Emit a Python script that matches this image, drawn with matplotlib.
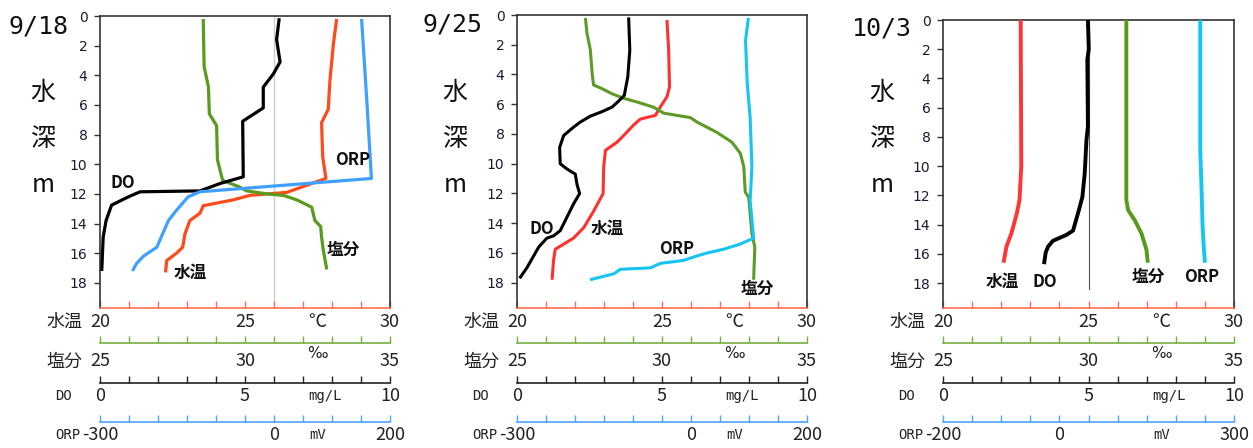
import numpy as np
import matplotlib.pyplot as plt

plt.rcParams['font.family'] = ['Noto Sans CJK JP', 'DejaVu Sans']

# ---- data: depth (m) and value ----
dates = ['9/18', '9/25', '10/3']

# 9/18
temp1_depth = [0.2, 1.85, 4.3, 6.3, 7.2, 9.5, 10.96, 11.9, 12.1, 12.4, 12.8, 13.3, 13.8, 14.7, 15.6, 16.0, 16.5, 17.3]
temp1 = [28.16, 28.05, 27.93, 27.87, 27.64, 27.68, 27.79, 26.44, 25.17, 24.6, 23.56, 23.45, 23.1, 22.93, 22.85, 22.64, 22.3, 22.26]
do1_depth = [0.15, 1.6, 3.1, 3.9, 4.8, 6.2, 7.1, 10.85, 11.3, 11.8, 11.86, 12.2, 12.76, 13.8, 14.9, 17.2]
do1 = [6.18, 6.09, 6.21, 5.98, 5.63, 5.63, 4.92, 4.94, 4.14, 3.45, 1.38, 0.98, 0.40, 0.21, 0.11, 0.06]
sal1_depth = [0.2, 3.4, 4.8, 6.6, 7.4, 9.7, 11.1, 11.5, 11.8, 12.0, 12.1, 12.4, 12.9, 13.8, 14.2, 14.9, 15.8, 17.1]
sal1 = [28.56, 28.59, 28.74, 28.77, 29.02, 29.05, 29.23, 29.77, 30.06, 30.75, 31.32, 31.78, 32.3, 32.41, 32.61, 32.64, 32.70, 32.82]
orp1_depth = [0.2, 5.7, 10.96, 11.86, 12.2, 13.1, 13.8, 15.6, 16.2, 16.7, 17.2]
orp1 = [151, 160, 168, -128, -148, -168, -182, -202, -225, -237, -244]

# 9/25
temp2_depth = [0.34, 2.36, 4.84, 5.5, 6.1, 6.75, 7.0, 7.4, 8.1, 8.55, 9.1, 10.2, 12.0, 13.2, 14.3, 15.0, 15.75, 16.5, 17.8]
temp2 = [25.17, 25.23, 25.26, 25.17, 24.97, 24.77, 24.25, 24.02, 23.68, 23.45, 23.05, 22.99, 22.97, 22.64, 22.3, 21.95, 21.32, 21.26, 21.21]
do2_depth = [0.16, 2.36, 4.16, 5.4, 5.74, 6.19, 6.5, 6.8, 7.2, 7.54, 8.1, 8.9, 10.0, 10.35, 10.7, 11.4, 12.0, 12.7, 13.6, 14.5, 14.85, 15.0, 15.6, 17.0, 17.7]
do2 = [3.85, 3.89, 3.82, 3.70, 3.53, 3.28, 2.93, 2.53, 2.18, 1.95, 1.61, 1.47, 1.49, 1.72, 2.01, 2.07, 2.16, 1.95, 1.72, 1.49, 1.26, 1.03, 0.75, 0.34, 0.09]
sal2_depth = [0.2, 1.2, 2.36, 3.9, 4.7, 4.95, 5.3, 5.6, 5.85, 6.2, 6.6, 6.9, 7.2, 7.9, 8.55, 9.3, 10.2, 11.9, 12.26, 14.7, 15.6, 17.8]
sal2 = [27.36, 27.41, 27.53, 27.59, 27.64, 27.93, 28.28, 28.68, 29.14, 29.71, 30.06, 30.98, 31.21, 31.90, 32.41, 32.70, 32.82, 32.87, 32.99, 33.10, 33.20, 33.16]
orp2_depth = [0.2, 1.7, 4.6, 6.9, 10.2, 12.5, 15.0, 15.4, 15.75, 16.0, 16.2, 16.5, 16.7, 17.0, 17.1, 17.4, 17.8]
orp2 = [99, 94, 97, 102, 105, 102, 108, 85, 56, 28, 10, -13, -53, -70, -122, -133, -174]

# 10/3
temp3_depth = [0.0, 10.0, 12.3, 13.2, 14.6, 15.5, 16.6]
temp3 = [22.67, 22.69, 22.63, 22.54, 22.35, 22.18, 22.08]
do3_depth = [0.0, 2.0, 2.7, 7.3, 8.2, 10.5, 12.1, 13.0, 14.4, 14.7, 15.1, 15.5, 15.9, 16.7]
do3 = [4.98, 5.01, 4.96, 4.98, 4.93, 4.87, 4.79, 4.67, 4.47, 4.24, 3.78, 3.61, 3.53, 3.47]
sal3_depth = [0.0, 12.3, 13.0, 13.7, 14.6, 15.7, 16.6]
sal3 = [31.30, 31.30, 31.36, 31.59, 31.82, 31.99, 32.04]
orp3_depth = [0.0, 8.9, 11.2, 14.1, 15.5, 16.6]
orp3 = [242, 242, 244, 246, 248, 250]

depth_ticks = [0, 2, 4, 6, 8, 10, 12, 14, 16, 18]
temp_range = (20, 30)
sal_range = (25, 35)
do_range = (0, 10)
orp_ranges = [(-300, 200), (-300, 200), (-200, 300)]
orp_shown = [(-300, 0, 200), (-300, 0, 200), (-200, 0, 300)]

# ---- layout (pixels) ----
W, H = 1253, 448
fig = plt.figure(figsize=(W / 100, H / 100), dpi=100)

boxes = [(100, 16, 390, 308), (517, 15, 807, 308), (943, 20, 1234, 308)]
title_xy = [(38, 27), (452, 25), (882, 28)]
ylabel_x = [43, 455, 882]

series = [
    (temp1_depth, temp1, do1_depth, do1, sal1_depth, sal1, orp1_depth, orp1),
    (temp2_depth, temp2, do2_depth, do2, sal2_depth, sal2, orp2_depth, orp2),
    (temp3_depth, temp3, do3_depth, do3, sal3_depth, sal3, orp3_depth, orp3),
]
line_colors = [
    ('#ff4a1c', '#000000', '#5a9a1e', '#3fa0ff'),
    ('#ff3030', '#000000', '#5e9a26', '#15c4f2'),
    ('#ff3535', '#000000', '#5a9a1a', '#14c6f0'),
]
line_w = [2.3, 2.2, 2.8]

# text labels placed as (temperature-scale x, depth)
label_pos = [
    {'DO': (20.8, 11.3), 'ORP': (28.72, 9.7), '水温': (23.1, 17.3), '塩分': (28.38, 15.8)},
    {'DO': (20.86, 14.4), '水温': (23.1, 14.4), 'ORP': (25.52, 15.7), '塩分': (28.3, 18.4)},
    {'水温': (22.03, 17.9), 'DO': (23.5, 17.9), '塩分': (27.04, 17.6), 'ORP': (28.9, 17.6)},
]

temp_c, sal_c, do_c, orp_c = '#ff7050', '#76b043', '#222222', '#4da6ff'
frame_c = '#333333'


def style_scale(ax, lo, hi, shown, color, center_px, unit, unit_x, unit_font):
    ticks = [lo + (hi - lo) * k / 10 for k in range(11)]
    ax.set_xlim(lo, hi)
    ax.set_xticks(ticks)
    ax.set_xticklabels([f'{t:g}' if any(abs(t - s) < 1e-9 for s in shown) else '' for t in ticks])
    ax.set_xticks([unit_x], [unit], minor=True)
    ax.tick_params(axis='x', which='major', direction='in', length=5, width=1,
                   color=color, pad=center_px * 0.72, labelsize=13, labelcolor='#222222')
    ax.tick_params(axis='x', which='minor', length=0, pad=center_px * 0.72,
                   labelcolor='#222222')
    for t in ax.xaxis.get_major_ticks() + ax.xaxis.get_minor_ticks():
        t.label1.set_va('center')
    for t in ax.xaxis.get_minor_ticks():
        t.label1.set_fontsize(unit_font[0])
        t.label1.set_fontfamily(unit_font[1])
    ax.spines['bottom'].set_color(color)
    ax.spines['bottom'].set_linewidth(1.2)


def row_label(ax, text, dx, offset_px, center_px, family, size, ha):
    ax.annotate(text, xy=(0, 0), xycoords='axes fraction',
                xytext=(dx, -(offset_px + center_px)), textcoords='offset pixels',
                ha=ha, va='center', fontsize=size, family=family, color='#222222')


for i in range(3):
    l, t, r, b = boxes[i]
    ax = fig.add_axes([l / W, 1 - b / H, (r - l) / W, (b - t) / H])
    ax.set_ylim(19.7, 0)
    ax.set_yticks(depth_ticks)
    ax.tick_params(axis='y', direction='out', length=4, width=1, color=frame_c,
                   labelsize=10, labelcolor='#1a1a33', pad=5)
    for lab in ax.get_yticklabels():
        lab.set_family('DejaVu Sans')
    for s in ('left', 'top', 'right'):
        ax.spines[s].set_color(frame_c)
        ax.spines[s].set_linewidth(1.2)
    style_scale(ax, *temp_range, (20, 25, 30), temp_c, 14, '℃', 27.5,
                (13, ['Noto Sans CJK JP']))
    row_label(ax, '水温', -18, 0, 14, ['Noto Sans CJK JP'], 13, 'right')

    ax_s = ax.twiny()
    ax_d = ax.twiny()
    ax_o = ax.twiny()
    for tax, off in ((ax_s, 35), (ax_d, 75), (ax_o, 114)):
        tax.xaxis.set_ticks_position('bottom')
        tax.xaxis.set_label_position('bottom')
        tax.spines['bottom'].set_position(('outward', off * 0.72))
        for s in ('left', 'top', 'right'):
            tax.spines[s].set_visible(False)
        tax.patch.set_visible(False)

    style_scale(ax_s, *sal_range, (25, 30, 35), sal_c, 18.5, '‰', 32.5,
                (11, ['DejaVu Sans']))
    ax_s.xaxis.get_minor_ticks()[0].label1.set_va('bottom')
    row_label(ax_s, '塩分', -18, 35, 18.5, ['Noto Sans CJK JP'], 13, 'right')

    style_scale(ax_d, *do_range, (0, 5, 10), do_c, 12.7, 'mg/L', 7.75,
                (10, ['DejaVu Sans Mono']))
    row_label(ax_d, 'DO', -45, 75, 12.7, ['DejaVu Sans Mono'], 10, 'left')

    lo, hi = orp_ranges[i]
    style_scale(ax_o, lo, hi, orp_shown[i], orp_c, 13.3, 'mV', lo + 0.75 * (hi - lo),
                (10, ['DejaVu Sans Mono']))
    row_label(ax_o, 'ORP', -45, 114, 13.3, ['DejaVu Sans Mono'], 10, 'left')

    # reference lines inside the box
    if i == 0:
        ax.axvline(26, color='#cccccc', lw=1, zorder=0)
    if i == 2:
        ax.plot([25, 25], [0, 18.4], color='#555555', lw=0.8, zorder=0)

    td, tv, dd, dv, sd, sv, od, ov = series[i]
    ct, cd, cs, co = line_colors[i]
    lw = line_w[i]
    ax_o.plot(ov, od, color=co, lw=lw, solid_capstyle='butt')
    ax_s.plot(sv, sd, color=cs, lw=lw, solid_capstyle='butt')
    ax.plot(tv, td, color=ct, lw=lw, solid_capstyle='butt', zorder=3)
    ax_d.plot(dv, dd, color=cd, lw=lw, solid_capstyle='butt')
    ax_o.set_ylim(19.7, 0)

    for name, (x, y) in label_pos[i].items():
        ax_o.annotate(name, xy=(x, y), xycoords=ax.transData, ha='center', va='center',
                      fontsize=12, fontweight='bold', color='#111111')

    fig.text(title_xy[i][0] / W, 1 - title_xy[i][1] / H, dates[i], ha='center', va='center',
             fontsize=18, family=['DejaVu Sans Mono'], color='#111111')
    for k, ch in enumerate(['水', '深', 'm']):
        fig.text(ylabel_x[i] / W, 1 - (93 + 46 * k) / H, ch, ha='center', va='center',
                 fontsize=18, color='#111111')

fig.savefig('out.png', dpi=100)
